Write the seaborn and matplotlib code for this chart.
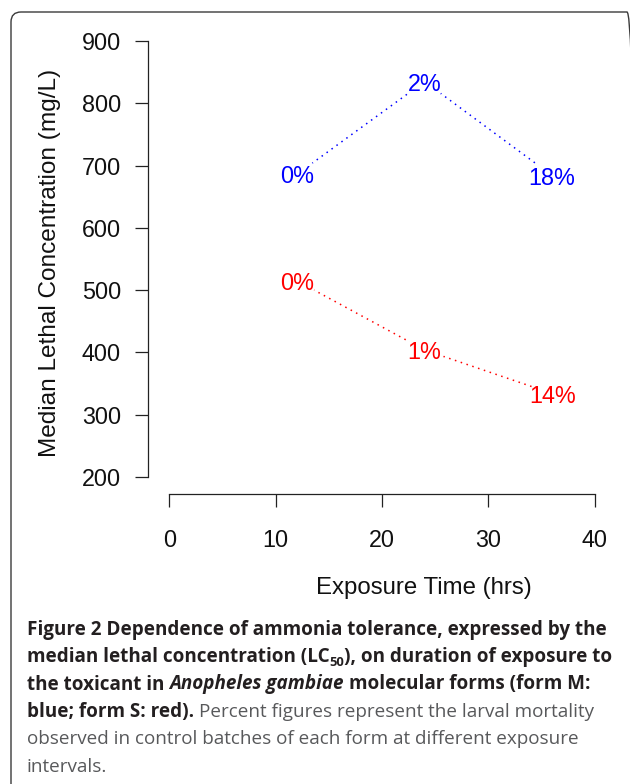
import matplotlib
matplotlib.use("Agg")
import matplotlib.pyplot as plt
import seaborn as sns
import pandas as pd
from matplotlib.patches import FancyBboxPatch
from matplotlib.transforms import IdentityTransform

# data
hours = [12, 24, 36]
lc50_M = [686, 835, 684]   # form M (blue)
lc50_S = [515, 404, 334]   # form S (red)
mort_M = ["0%", "2%", "18%"]
mort_S = ["0%", "1%", "14%"]
x_ticks = [0, 10, 20, 30, 40]
y_ticks = [200, 300, 400, 500, 600, 700, 800, 900]

df = pd.DataFrame({
    "hours": hours + hours,
    "lc50": lc50_M + lc50_S,
    "form": ["M"] * 3 + ["S"] * 3,
    "label": mort_M + mort_S,
})
colors = {"M": "#0000FF", "S": "#FF0000"}

sns.set_style("ticks")
plt.rcParams["font.family"] = ["Liberation Sans", "DejaVu Sans"]

W, H = 630, 784
fig = plt.figure(figsize=(W / 100, H / 100), dpi=100)

# axes placed in pixel terms (R-style layout)
left, right, top, bottom = 148, 616, 23.6, 493.8
ax = fig.add_axes([left / W, 1 - bottom / H, (right - left) / W, (bottom - top) / H])

sns.lineplot(data=df, x="hours", y="lc50", hue="form", palette=colors, ax=ax,
             legend=False, sort=False, linestyle=(0, (1, 3)), linewidth=1.1,
             marker="o", markersize=27, markerfacecolor="white",
             markeredgecolor="white", markeredgewidth=0)

for _, r in df.iterrows():
    ax.text(r["hours"], r["lc50"], r["label"], color=colors[r["form"]],
            ha="center", va="center_baseline", fontsize=16.8, zorder=5)

ax.set_xlim(-2, 42)
ax.set_ylim(173, 928)
ax.set_xticks(x_ticks)
ax.set_yticks(y_ticks)
for s in ["top", "right"]:
    ax.spines[s].set_visible(False)
ax.spines["left"].set_bounds(200, 900)
ax.spines["bottom"].set_bounds(0, 40)
for s in ["left", "bottom"]:
    ax.spines[s].set_color("#222222")
    ax.spines[s].set_linewidth(0.9)
ax.tick_params(axis="both", direction="out", length=9.5, width=0.9,
               color="#222222", labelsize=16.8, labelcolor="#111111",
               bottom=True, left=True)
ax.tick_params(axis="y", pad=10)
ax.tick_params(axis="x", pad=15.5)

ax.set_xlabel("Exposure Time (hrs)", fontsize=17.3, color="#111111")
ax.set_ylabel("Median Lethal Concentration (mg/L)", fontsize=17.6, color="#111111")
ax.xaxis.set_label_coords((424 - left) / (right - left), -(588 - bottom) / (bottom - top))
ax.xaxis.label.set_va("center")
ax.yaxis.set_label_coords(-(left - 50) / (right - left), 1 - (262.5 - top) / (bottom - top))
ax.yaxis.label.set_va("center")

# rounded frame around the figure panel (right and bottom edges fall outside)
frame = FancyBboxPatch((11, -30), 626, H - 12 + 30,
                       boxstyle="round,pad=0,rounding_size=10",
                       transform=IdentityTransform(), fill=False,
                       edgecolor="#3a3a3a", linewidth=1.0)
fig.add_artist(frame)

# caption with mixed styles
cap_font = "Open Sans"
dark = "#231f20"
grey = "#58595b"
fs = 13.6
bold = dict(family=cap_font, weight="bold", color=dark, size=fs)
bold_it = dict(family=cap_font, weight="bold", style="italic", color=dark, size=fs)
sub = dict(family=cap_font, weight="bold", color=dark, size=fs * 0.68)
reg = dict(family=cap_font, weight="normal", color=grey, size=fs)

renderer = fig.canvas.get_renderer()


def text_width(s, props):
    t = fig.text(0, 0, s, **props)
    w = t.get_window_extent(renderer).width
    t.remove()
    return w


def space_width(props):
    return text_width("x x", props) - text_width("xx", props)


def draw_line(x0, y_base, runs):
    x = x0
    for s, props, dy in runs:
        if s == " ":
            x += space_width(props)
            continue
        t = fig.text(x / W, 1 - (y_base + dy) / H, s, ha="left", va="baseline", **props)
        x += t.get_window_extent(renderer).width


x0 = 27
base = 634.5
step = 27.5
lines = [
    [("Figure 2 Dependence of ammonia tolerance, expressed by the", bold, 0)],
    [("median lethal concentration (LC", bold, 0), ("50", sub, 4), ("), on duration of exposure to", bold, 0)],
    [("the toxicant in", bold, 0), (" ", bold, 0), ("Anopheles gambiae", bold_it, 0),
     (" ", bold, 0), ("molecular forms (form M:", bold, 0)],
    [("blue; form S: red).", bold, 0), (" ", reg, 0),
     ("Percent figures represent the larval mortality", reg, 0)],
    [("observed in control batches of each form at different exposure", reg, 0)],
    [("intervals.", reg, 0)],
]
for i, runs in enumerate(lines):
    draw_line(x0, base + i * step, runs)

fig.savefig("out.png", dpi=100)
